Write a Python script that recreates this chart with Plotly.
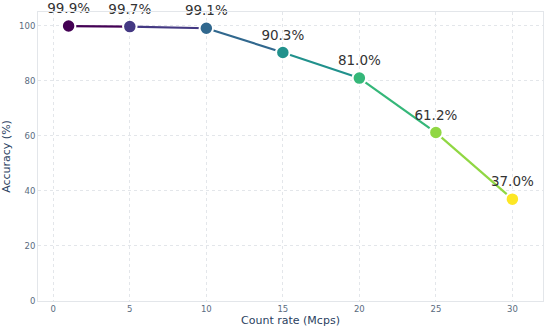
import plotly.graph_objects as go

count_rate = [1, 5, 10, 15, 20, 25, 30]
accuracy = [99.9, 99.7, 99.1, 90.3, 81.0, 61.2, 37.0]
labels = ["99.9%", "99.7%", "99.1%", "90.3%", "81.0%", "61.2%", "37.0%"]
colors = ["#440154", "#443983", "#31688e", "#21918c", "#35b779", "#90d743", "#fde725"]

fig = go.Figure()
for i in range(len(count_rate) - 1):
    fig.add_trace(go.Scatter(
        x=count_rate[i:i + 2], y=accuracy[i:i + 2], mode="lines",
        line=dict(color=colors[i], width=2.2), showlegend=False, hoverinfo="skip"))

fig.add_trace(go.Scatter(
    x=count_rate, y=accuracy, mode="markers+text",
    marker=dict(color=colors, size=13.5, line=dict(color="white", width=2)),
    text=labels, textposition="top center", cliponaxis=False,
    textfont=dict(size=13.5, color="#333333", family="DejaVu Sans"),
    showlegend=False))

axis_common = dict(
    showgrid=True, gridcolor="#e3e6ea", griddash="dot", gridwidth=1,
    showline=True, linecolor="#e3e6ea", linewidth=1, mirror=True,
    zeroline=False, ticks="",
    tickfont=dict(size=8.5, color="#5a6b80", family="DejaVu Sans"),
)
fig.update_xaxes(title=dict(text="Count rate (Mcps)", standoff=1,
                            font=dict(size=11, color="#2a3f5f", family="DejaVu Sans")),
                 automargin=True,
                 range=[-1, 32], tickvals=[0, 5, 10, 15, 20, 25, 30], **axis_common)
fig.update_yaxes(title=dict(text="Accuracy (%)", font=dict(size=11, color="#2a3f5f", family="DejaVu Sans")),
                 automargin=False,
                 range=[0, 105], tickvals=[0, 20, 40, 60, 80, 100], **axis_common)

fig.update_layout(
    width=550, height=331,
    margin=dict(l=38, r=7, t=12, b=30),
    plot_bgcolor="white", paper_bgcolor="white",
    font=dict(family="DejaVu Sans"),
)
fig.write_html("out.html", config={"displayModeBar": False},
               post_script="document.body.style.margin='0';document.body.style.overflow='hidden';")
